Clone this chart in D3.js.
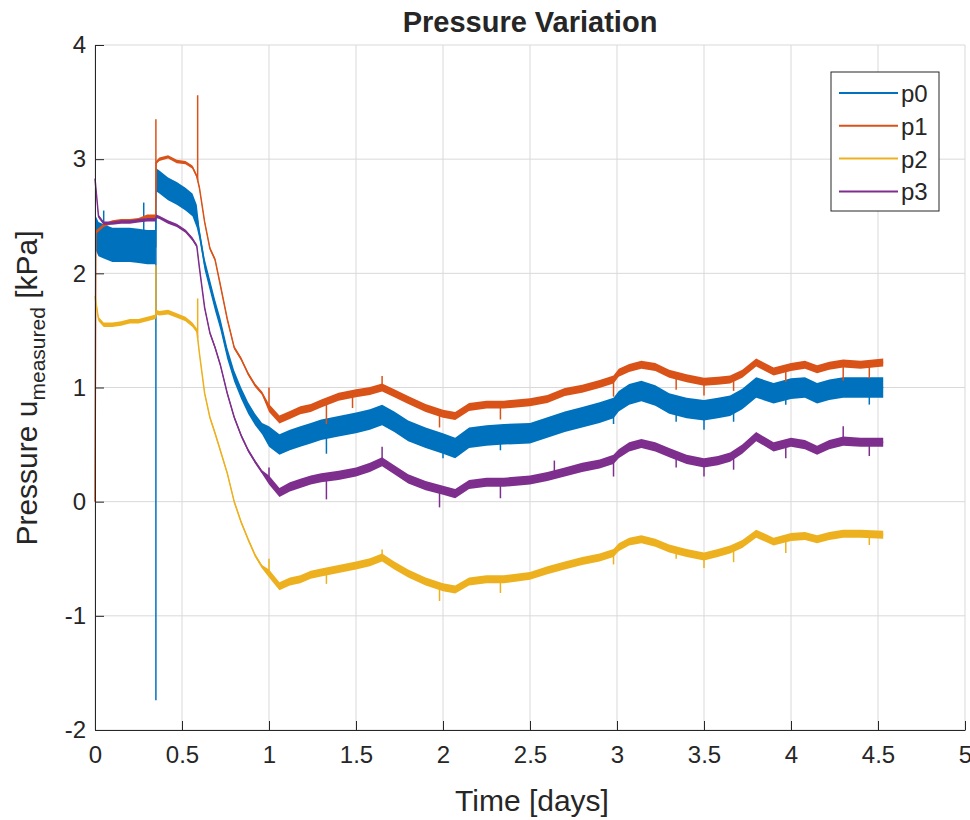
<!DOCTYPE html>
<html>
<head>
<meta charset="utf-8">
<script src="https://cdn.jsdelivr.net/npm/d3@7"></script>
<style>
body { margin: 0; background: #fff; }
text { font-family: "Liberation Sans", Arial, sans-serif; fill: #262626; }
</style>
</head>
<body>
<script>
// time grid (days), shared by all four pressure series
var T = [0, 0.005, 0.02, 0.05, 0.1, 0.15, 0.2, 0.25, 0.3, 0.349, 0.351, 0.37, 0.42, 0.47, 0.52, 0.56, 0.585,
  0.6, 0.63, 0.66, 0.69, 0.72, 0.76, 0.8, 0.84, 0.88, 0.92, 0.96, 1.0, 1.06, 1.12, 1.18, 1.24, 1.3, 1.4, 1.5,
  1.58, 1.65, 1.72, 1.8, 1.9, 2.0, 2.07, 2.15, 2.25, 2.35, 2.5, 2.6, 2.7, 2.8, 2.9, 2.98, 3.01, 3.07, 3.14,
  3.22, 3.3, 3.4, 3.5, 3.58, 3.65, 3.72, 3.8, 3.9, 4.0, 4.08, 4.15, 4.22, 4.3, 4.4, 4.53];

var p0 = [2.35, 2.35, 2.3, 2.28, 2.25, 2.25, 2.25, 2.24, 2.23, 2.23, 2.82, 2.8, 2.74, 2.7, 2.65, 2.6, 2.5,
  2.35, 2.08, 1.9, 1.72, 1.56, 1.3, 1.1, 0.95, 0.82, 0.72, 0.64, 0.57, 0.5, 0.54, 0.57, 0.6, 0.63, 0.66, 0.69,
  0.72, 0.76, 0.7, 0.62, 0.56, 0.51, 0.47, 0.56, 0.58, 0.59, 0.6, 0.65, 0.7, 0.74, 0.78, 0.82, 0.88, 0.94, 0.97,
  0.93, 0.86, 0.82, 0.8, 0.82, 0.84, 0.9, 1.0, 0.95, 0.99, 1.0, 0.95, 0.98, 1.0, 1.0, 1.0];
var p1 = [0, 2.36, 2.38, 2.42, 2.45, 2.46, 2.46, 2.47, 2.5, 2.5, 2.97, 3.0, 3.02, 2.98, 2.97, 2.93, 2.85,
  2.75, 2.45, 2.22, 2.12, 1.9, 1.6, 1.35, 1.25, 1.12, 1.02, 0.95, 0.82, 0.72, 0.76, 0.8, 0.82, 0.86, 0.92, 0.95,
  0.97, 1.0, 0.95, 0.89, 0.82, 0.77, 0.75, 0.83, 0.85, 0.85, 0.87, 0.9, 0.96, 0.99, 1.03, 1.07, 1.13, 1.17, 1.2,
  1.18, 1.12, 1.08, 1.05, 1.06, 1.07, 1.12, 1.22, 1.14, 1.18, 1.2, 1.16, 1.19, 1.21, 1.2, 1.22];
var p2 = [1.8, 1.75, 1.6, 1.55, 1.55, 1.56, 1.58, 1.58, 1.6, 1.62, 1.66, 1.65, 1.66, 1.63, 1.6, 1.55, 1.5,
  1.3, 0.95, 0.74, 0.6, 0.45, 0.25, 0.0, -0.18, -0.33, -0.47, -0.57, -0.63, -0.74, -0.7, -0.68, -0.64, -0.62,
  -0.59, -0.56, -0.53, -0.49, -0.56, -0.63, -0.7, -0.75, -0.77, -0.7, -0.68, -0.68, -0.65, -0.6, -0.56, -0.52,
  -0.49, -0.45, -0.4, -0.35, -0.33, -0.36, -0.41, -0.45, -0.48, -0.45, -0.42, -0.37, -0.28, -0.35, -0.31, -0.3,
  -0.33, -0.3, -0.28, -0.28, -0.29];
var p3 = [2.83, 2.75, 2.5, 2.44, 2.44, 2.45, 2.45, 2.46, 2.47, 2.47, 2.5, 2.49, 2.45, 2.42, 2.37, 2.3, 2.24,
  2.05, 1.7, 1.48, 1.35, 1.2, 0.95, 0.74, 0.58, 0.45, 0.35, 0.26, 0.19, 0.08, 0.13, 0.16, 0.19, 0.21, 0.23, 0.26,
  0.3, 0.35, 0.28, 0.2, 0.14, 0.1, 0.07, 0.15, 0.17, 0.17, 0.19, 0.22, 0.26, 0.3, 0.33, 0.37, 0.42, 0.48, 0.51,
  0.48, 0.43, 0.37, 0.34, 0.36, 0.39, 0.46, 0.57, 0.48, 0.52, 0.5, 0.45, 0.5, 0.53, 0.52, 0.52];

// noise band half-width: [from time, kPa]
var p0Spread = [[0, 0.15], [0.35, 0.1], [0.6, 0.05], [1.0, 0.09]];
var p1Spread = [[0, 0.015], [1.0, 0.035]];
var p2Spread = [[0, 0.02], [0.6, 0.015], [1.0, 0.035]];
var p3Spread = [[0, 0.015], [1.0, 0.04]];

// short spikes: [time, tip value]
var p0Spikes = [[0.05, 2.55], [0.28, 2.62], [0.35, -1.74], [1.33, 0.42], [2.0, 0.38], [2.33, 0.45], [2.98, 0.68],
  [3.34, 0.7], [3.5, 0.63], [3.67, 0.7], [3.97, 0.85], [4.45, 0.85]];
var p1Spikes = [[0.35, 3.35], [0.59, 3.56], [1.0, 1.0], [1.33, 0.68], [1.48, 0.82], [1.65, 1.1], [1.98, 0.65],
  [2.33, 0.72], [2.98, 0.92], [3.34, 0.98], [3.5, 0.93], [3.67, 0.97], [3.97, 1.05], [4.3, 1.06], [4.45, 1.08]];
var p2Spikes = [[0.35, 2.07], [0.59, 1.78], [1.0, -0.5], [1.33, -0.72], [1.65, -0.42], [1.98, -0.87], [2.33, -0.8],
  [2.98, -0.55], [3.34, -0.5], [3.5, -0.58], [3.67, -0.53], [3.97, -0.45], [4.45, -0.38]];
var p3Spikes = [[1.0, 0.3], [1.33, 0.02], [1.65, 0.48], [1.98, -0.05], [2.33, 0.03], [2.64, 0.36], [2.98, 0.22],
  [3.34, 0.3], [3.5, 0.22], [3.67, 0.28], [3.97, 0.38], [4.3, 0.66], [4.45, 0.4]];

var names = ["p0", "p1", "p2", "p3"];
var colors = ["#0072BD", "#D95319", "#EDB120", "#7E2F8E"];
var xTicks = [0, 0.5, 1, 1.5, 2, 2.5, 3, 3.5, 4, 4.5, 5];
var yTicks = [-2, -1, 0, 1, 2, 3, 4];

var series = [
  {v: p0, spread: p0Spread, spikes: p0Spikes},
  {v: p1, spread: p1Spread, spikes: p1Spikes},
  {v: p2, spread: p2Spread, spikes: p2Spikes},
  {v: p3, spread: p3Spread, spikes: p3Spikes}
];

var width = 970, height = 820;
var svg = d3.select("body").append("svg").attr("width", width).attr("height", height);

var x = d3.scaleLinear().domain([0, 5]).range([95, 965]);
var y = d3.scaleLinear().domain([-2, 4]).range([730, 45]);

// grid
svg.append("g").selectAll("line").data(xTicks).enter().append("line")
  .attr("x1", d => x(d)).attr("x2", d => x(d)).attr("y1", y(-2)).attr("y2", y(4))
  .attr("stroke", "#d9d9d9").attr("stroke-width", 1);
svg.append("g").selectAll("line").data(yTicks).enter().append("line")
  .attr("x1", x(0)).attr("x2", x(5)).attr("y1", d => y(d)).attr("y2", d => y(d))
  .attr("stroke", "#d9d9d9").attr("stroke-width", 1);

function spreadAt(sp, t) {
  var w = sp[0][1];
  sp.forEach(function (s) { if (t >= s[0]) w = s[1]; });
  return w;
}

var plot = svg.append("g");
series.forEach(function (s, k) {
  var pts = T.map(function (t, i) { return {t: t, v: s.v[i], w: spreadAt(s.spread, t)}; });
  var area = d3.area()
    .x(d => x(d.t))
    .y0(d => y(d.v - d.w))
    .y1(d => y(d.v + d.w));
  var line = d3.line().x(d => x(d.t)).y(d => y(d.v));
  plot.append("path").attr("d", area(pts)).attr("fill", colors[k]).attr("stroke", "none");
  plot.append("path").attr("d", line(pts)).attr("fill", "none")
    .attr("stroke", colors[k]).attr("stroke-width", 1.5).attr("stroke-linejoin", "round");
  // spikes start from the curve at that time
  var bis = d3.bisector(d => d.t).left;
  plot.selectAll(null).data(s.spikes).enter().append("line")
    .attr("x1", d => x(d[0])).attr("x2", d => x(d[0]))
    .attr("y1", function (d) {
      var i = Math.min(Math.max(bis(pts, d[0]), 1), pts.length - 1);
      var a = pts[i - 1], b = pts[i];
      return y(a.v + (b.v - a.v) * (d[0] - a.t) / (b.t - a.t));
    })
    .attr("y2", d => y(d[1]))
    .attr("stroke", colors[k]).attr("stroke-width", 1.5);
});

// axes, ticks inward like matlab
var fmt = d => String(d);
var xAxis = d3.axisBottom(x).tickValues(xTicks).tickFormat(fmt).tickSizeInner(-9).tickSizeOuter(0).tickPadding(16);
var yAxis = d3.axisLeft(y).tickValues(yTicks).tickFormat(fmt).tickSizeInner(-9).tickSizeOuter(0).tickPadding(9);

var gx = svg.append("g").attr("transform", "translate(0," + y(-2) + ")").call(xAxis);
var gy = svg.append("g").attr("transform", "translate(" + x(0) + ",0)").call(yAxis);
[gx, gy].forEach(function (g) {
  g.select(".domain").attr("stroke", "#262626").attr("stroke-width", 1);
  g.selectAll(".tick line").attr("stroke", "#262626");
  g.selectAll(".tick text").attr("fill", "#262626").style("font-size", "24px")
    .style("font-family", "'Liberation Sans', Arial, sans-serif");
});

// title and labels
svg.append("text").attr("x", 530).attr("y", 32).attr("text-anchor", "middle")
  .style("font-size", "29px").style("font-weight", "bold").attr("fill", "#000").text("Pressure Variation");

svg.append("text").attr("x", 532).attr("y", 811).attr("text-anchor", "middle")
  .style("font-size", "30px").text("Time [days]");

var yl = svg.append("text").attr("transform", "translate(37,388) rotate(-90)").attr("text-anchor", "middle")
  .style("font-size", "30px");
yl.append("tspan").text("Pressure u");
yl.append("tspan").attr("dy", 8).style("font-size", "21px").text("measured");
yl.append("tspan").attr("dy", -8).text(" [kPa]");

// legend
var lg = svg.append("g").attr("transform", "translate(831,72)");
lg.append("rect").attr("width", 108).attr("height", 139).attr("fill", "#fff")
  .attr("stroke", "#262626").attr("stroke-width", 1);
names.forEach(function (n, i) {
  var yy = 21 + i * 32.8;
  lg.append("line").attr("x1", 8).attr("x2", 67).attr("y1", yy).attr("y2", yy)
    .attr("stroke", colors[i]).attr("stroke-width", 2);
  lg.append("text").attr("x", 70).attr("y", yy + 9).style("font-size", "24px").text(n);
});
</script>
</body>
</html>
